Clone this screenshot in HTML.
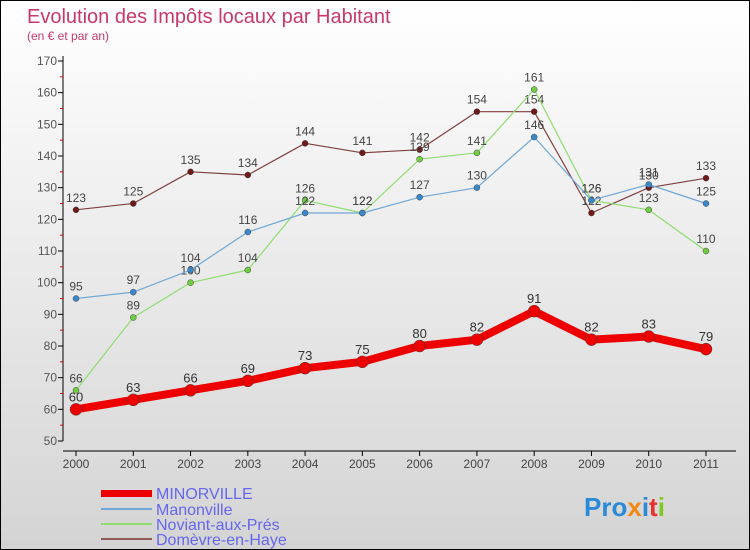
<!DOCTYPE html>
<html><head><meta charset="utf-8"><style>
body{margin:0;}
#c{width:750px;height:550px;position:relative;box-sizing:border-box;border:1px solid #000;background:linear-gradient(#ffffff,#d4d4d4);font-family:"Liberation Sans",sans-serif;overflow:hidden}
</style></head><body>
<div id="c">
<svg id="s" width="750" height="550" style="position:absolute;left:0;top:0">
<text x="26" y="22" font-size="20" fill="#c8386a">Evolution des Impôts locaux par Habitant</text>
<text x="26" y="39" font-size="12" fill="#c8386a">(en € et par an)</text>
<g id="axes"></g><g id="series"></g>
<g font-size="16" fill="#6666ee">
<rect x="100" y="489" width="51" height="7" fill="#e00"/>
<text x="155" y="498">MINORVILLE</text>
<rect x="100" y="507" width="51" height="2" fill="#70a8d8"/>
<text x="155" y="514">Manonville</text>
<rect x="100" y="522" width="51" height="2" fill="#90dd70"/>
<text x="155" y="529">Noviant-aux-Prés</text>
<rect x="100" y="537" width="51" height="2" fill="#905858"/>
<text x="155" y="544">Domèvre-en-Haye</text>
</g>
<text x="583" y="515" font-size="26" font-weight="bold"><tspan fill="#2a8ad8">Pro</tspan><tspan fill="#f08a10">x</tspan><tspan fill="#2a8ad8">i</tspan><tspan fill="#e83030">t</tspan><tspan fill="#80c820">i</tspan></text>
</svg>
</div>
<script>
const years=[2000,2001,2002,2003,2004,2005,2006,2007,2008,2009,2010,2011];
const minorville=[60,63,66,69,73,75,80,82,91,82,83,79];
const manonville=[95,97,104,116,122,122,127,130,146,126,131,125];
const noviant=[66,89,100,104,126,122,139,141,161,126,123,110];
const domevre=[123,125,135,134,144,141,142,154,154,122,130,133];
const yTicks=[50,60,70,80,90,100,110,120,130,140,150,160,170];
const NS='http://www.w3.org/2000/svg';
function X(i){return 75+(705-75)*i/(years.length-1);}
function Y(v){return 440-(v-50)*(380/120);}
function mk(t,a,p){const e=document.createElementNS(NS,t);for(const k in a)e.setAttribute(k,a[k]);p.appendChild(e);return e;}
const ax=document.getElementById('axes');
let l=mk('line',{x1:62,y1:55,x2:62,y2:440,stroke:'#000'},ax);


l=mk('line',{x1:62,y1:450,x2:735,y2:450,stroke:'#000'},ax);


yTicks.forEach(v=>{
 mk('line',{x1:57,y1:Y(v),x2:62,y2:Y(v),stroke:'#000'},ax);
 if(v<170){mk('line',{x1:59,y1:Y(v+5),x2:62,y2:Y(v+5),stroke:'#e00'},ax);}
 const t=mk('text',{x:56,y:Y(v)+4,'font-size':12,fill:'#555','text-anchor':'end'},ax);t.textContent=v;
 
 
});
years.forEach((yr,i)=>{
 mk('line',{x1:X(i),y1:450,x2:X(i),y2:455,stroke:'#000'},ax);
 const t=mk('text',{x:X(i),y:467,'font-size':12,fill:'#444','text-anchor':'middle'},ax);t.textContent=yr;
 
 
});
const sg=document.getElementById('series');
function draw(vals,color,dot,w,r,name,fs,lc){
 const g=mk('g',{},sg);
 
 
 mk('polyline',{points:vals.map((v,i)=>X(i)+','+Y(v)).join(' '),fill:'none',stroke:color,'stroke-width':w,'stroke-linejoin':'round'},g);
 vals.forEach((v,i)=>{
  const c=mk('circle',{cx:X(i),cy:Y(v),r:r,fill:dot,stroke:'#444','stroke-width':0.5},g);
  
  
  const t=mk('text',{x:X(i),y:Y(v)-8,'font-size':fs,fill:lc,'text-anchor':'middle'},g);t.textContent=v;
 });
}
draw(domevre,'#804040','#701818',1.2,3,'series-domevre',12,'#444');
draw(noviant,'#90dd70','#70cc40',1.2,3,'series-noviant',12,'#444');
draw(manonville,'#70a8d8','#3a88cc',1.2,3,'series-manonville',12,'#444');
draw(minorville,'#e00','#e00',8,6,'series-minorville',13,'#333');
</script>
</body></html>
